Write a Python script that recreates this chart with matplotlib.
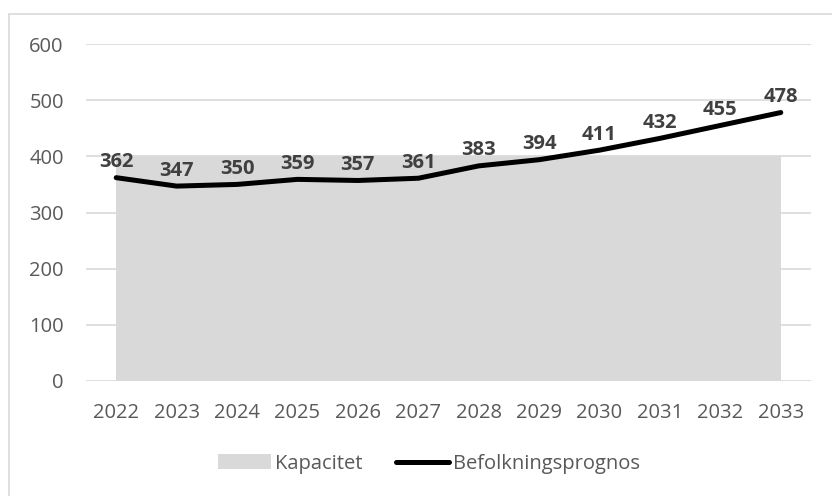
import matplotlib
matplotlib.use("Agg")
import matplotlib.pyplot as plt
from matplotlib.patches import Rectangle

years = [2022, 2023, 2024, 2025, 2026, 2027, 2028, 2029, 2030, 2031, 2032, 2033]
kapacitet = [400] * 12
prognos = [362, 347, 350, 359, 357, 361, 383, 394, 411, 432, 455, 478]
yticks = [0, 100, 200, 300, 400, 500, 600]

plt.rcParams['font.family'] = ['Open Sans', 'DejaVu Sans']

W, H = 832, 496
fig = plt.figure(figsize=(W / 100, H / 100), dpi=100)
ax = fig.add_axes([86 / W, 1 - 381 / H, (811 - 86) / W, (381 - 44) / H])

x = list(range(len(years)))
ax.fill_between(x, 0, kapacitet, color='#d9d9d9', lw=0, label='Kapacitet', zorder=2)
ax.plot(x, prognos, color='black', lw=3.6, solid_capstyle='round',
        label='Befolkningsprognos', zorder=3)
for xi, v in zip(x, prognos):
    ax.annotate(str(v), (xi, v), xytext=(0, 4), textcoords='offset points',
                ha='center', va='bottom', fontsize=14.5, fontweight='bold',
                color='#404040', zorder=4)

ax.set_xlim(-0.5, len(years) - 0.5)
ax.set_ylim(0, 600)
ax.set_yticks(yticks)
ax.set_xticks(x)
ax.set_xticklabels([str(y) for y in years])
ax.grid(axis='y', color='#d9d9d9', lw=1.2, zorder=1)
ax.set_axisbelow(True)
for s in ax.spines.values():
    s.set_visible(False)
ax.tick_params(length=0, labelsize=14.5, colors='#595959')
ax.tick_params(axis='x', pad=16)
ax.tick_params(axis='y', pad=16)

leg = ax.legend(loc='center', bbox_to_anchor=(0.473, -0.245), ncol=2, frameon=False,
                fontsize=14.5, labelcolor='#595959', handlelength=2.6, handletextpad=0.2,
                columnspacing=1.7)

fig.patches.append(Rectangle((9 / W, -0.1), 1.2, (H - 14) / H + 0.1,
                             transform=fig.transFigure, fill=False,
                             edgecolor='#d9d9d9', lw=1.2))

fig.savefig('out.png', dpi=100)
